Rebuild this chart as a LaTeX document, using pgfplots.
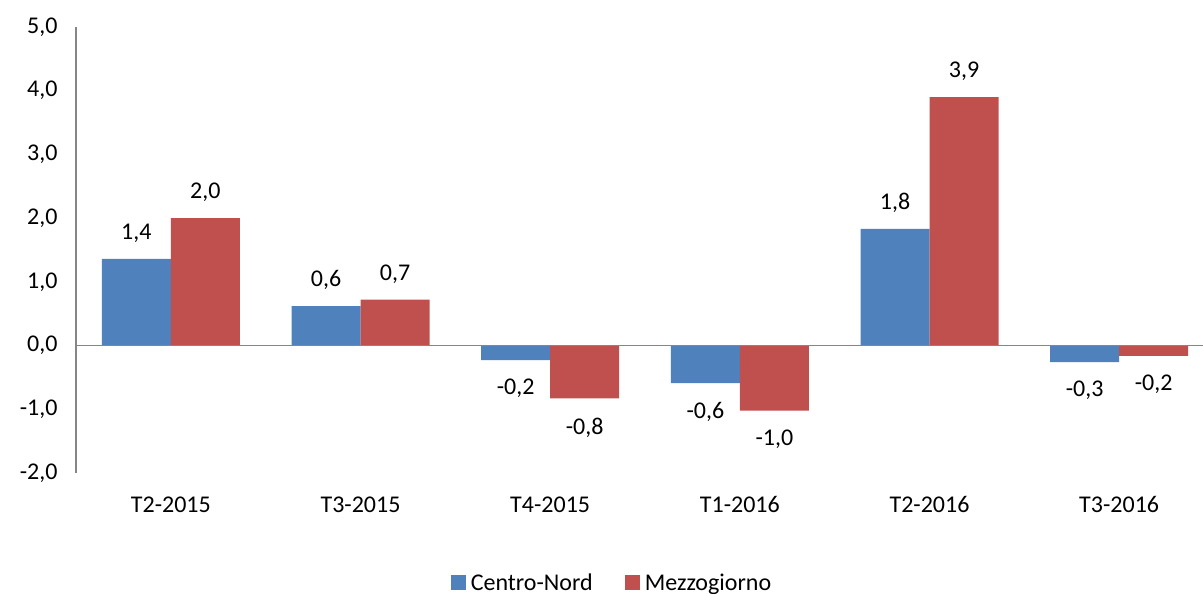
\documentclass[border=0pt]{standalone}
\usepackage{pgfplots}
\pgfplotsset{compat=1.18}
\usepackage{fontspec}
\setmainfont{Carlito}

\definecolor{cnblue}{HTML}{4F81BD}
\definecolor{mzred}{HTML}{C0504D}
\definecolor{axisgray}{HTML}{868686}

% Quarterly change, percent
\pgfplotstableread{
x  cn     mz
0  1.36   2.00
1  0.62   0.72
2  -0.23  -0.83
3  -0.59  -1.02
4  1.83   3.90
5  -0.26  -0.16
}\datatable

\begin{document}
\begin{tikzpicture}[font=\fontsize{24}{29}\selectfont]
\useasboundingbox (-76pt,-121pt) rectangle (1127pt,473pt);
\begin{axis}[
  at={(0pt,0pt)}, anchor=south west,
  scale only axis,
  width=1127pt, height=446pt,
  xmin=-0.5, xmax=5.442,
  ymin=-2, ymax=5,
  ytick={-2,-1,...,5},
  xtick={0,...,5},
  xticklabels={T2-2015,T3-2015,T4-2015,T1-2016,T2-2016,T3-2016},
  axis y line*=left,
  axis x line*=bottom,
  x axis line style={draw=none},
  y axis line style={draw=axisgray, line width=1.2pt, -},
  major tick length=0pt,
  /pgf/number format/use comma,
  /pgf/number format/fixed,
  /pgf/number format/fixed zerofill,
  /pgf/number format/precision=1,
  /pgf/number format/assume math mode=true,
  yticklabel style={xshift=-15pt},
  xticklabel style={yshift=-20pt},
  ybar, bar width=69pt,
  nodes near coords,
  every node near coord/.append style={text depth=0pt, inner sep=0pt, inner ysep=19pt, black},
  legend columns=2,
  legend style={draw=none, at={(0.4756,-0.2466)}, anchor=center,
    /tikz/every odd column/.append style={column sep=3pt},
    /tikz/every even column/.append style={column sep=30pt},
    inner sep=2pt, nodes={inner sep=2pt}, font=\fontsize{24}{29}\selectfont},
  legend image code/.code={\fill[#1] (0pt,-7.5pt) rectangle (15pt,7.5pt);},
  clip=false,
]
\addplot[fill=cnblue, draw=none, bar shift=-34.5pt] table[x=x, y=cn] {\datatable};
\addplot[fill=mzred, draw=none, bar shift=34.5pt] table[x=x, y=mz] {\datatable};
\legend{Centro-Nord,Mezzogiorno}
\draw[axisgray, line width=1.2pt] (axis cs:-0.5,0) -- (axis cs:5.442,0);
\end{axis}
\end{tikzpicture}
\end{document}
